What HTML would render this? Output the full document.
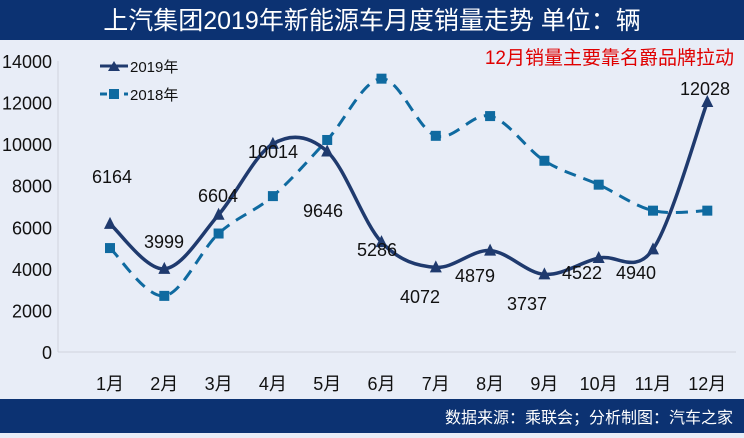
<!DOCTYPE html>
<html><head><meta charset="utf-8"><style>
body{margin:0;width:744px;height:433px;overflow:hidden;background:#e8edf7;font-family:"Liberation Sans","Noto Sans CJK SC",sans-serif;}
</style></head><body>
<svg id="s" width="744" height="433" xmlns="http://www.w3.org/2000/svg" font-family="Liberation Sans, Noto Sans CJK SC, sans-serif">
<rect width="744" height="433" fill="#e8edf7"/>
<rect width="744" height="40" fill="#0c3272"/>
<text x="372" y="29" fill="#fff" font-size="25" text-anchor="middle">上汽集团2019年新能源车月度销量走势  单位：辆</text>
<rect y="399" width="744" height="34" fill="#0c3272"/>
<text x="733" y="423" fill="#fff" font-size="16" text-anchor="end">数据来源：乘联会；分析制图：汽车之家</text>
<line x1="58" y1="352" x2="736" y2="352" stroke="#d0d4dc" stroke-width="1"/>
<line x1="58" y1="61" x2="58" y2="352" stroke="#d0d4dc" stroke-width="1"/>
<g id="g" font-size="18" fill="#111"></g>
<text x="734" y="64" fill="#e00000" font-size="19" text-anchor="end">12月销量主要靠名爵品牌拉动</text>
<line x1="100" y1="66" x2="128" y2="66" stroke="#1f3a6e" stroke-width="3"/><path d="M108 71 L114 61 L120 71Z" fill="#1f3a6e"/>
<text x="130" y="72" font-size="15" fill="#111">2019年</text>
<line x1="100" y1="94" x2="128" y2="94" stroke="#0f6aa0" stroke-width="3" stroke-dasharray="7,5"/><rect x="109" y="89" width="10" height="10" fill="#0f6aa0"/>
<text x="130" y="100" font-size="15" fill="#111">2018年</text>
</svg>
<script>
const g=document.getElementById('g'),NS='http://www.w3.org/2000/svg';
function el(t,a,txt){const e=document.createElementNS(NS,t);for(const k in a)e.setAttribute(k,a[k]);if(txt!=null)e.textContent=txt;g.appendChild(e);return e;}
const X=i=>110+54.3*i,Y=v=>352-v*0.020786;
for(let v=0;v<=14000;v+=2000)el('text',{x:52,y:Y(v)+7,'text-anchor':'end'},v);
for(let i=0;i<12;i++)el('text',{x:X(i),y:390,'text-anchor':'middle'},(i+1)+'月');
const a=[6164,3999,6604,10014,9646,5286,4072,4879,3737,4522,4940,12028];
const b=[5000,2700,5700,7500,10200,13150,10400,11350,9200,8050,6800,6800];
function path(d){const p=d.map((v,i)=>[X(i),Y(v)]);let s='M'+p[0];for(let i=0;i<p.length-1;i++){const p0=p[i-1]||p[i],p1=p[i],p2=p[i+1],p3=p[i+2]||p2;const t=6;s+=` C${p1[0]+(p2[0]-p0[0])/t},${p1[1]+(p2[1]-p0[1])/t} ${p2[0]-(p3[0]-p1[0])/t},${p2[1]-(p3[1]-p1[1])/t} ${p2[0]},${p2[1]}`;}return s;}
el('path',{d:path(b),fill:'none',stroke:'#0f6aa0','stroke-width':3,'stroke-dasharray':'12,8'});
el('path',{d:path(a),fill:'none',stroke:'#1f3a6e','stroke-width':3.5});
b.forEach((v,i)=>el('rect',{x:X(i)-5,y:Y(v)-5,width:10,height:10,fill:'#0f6aa0'}));
a.forEach((v,i)=>{const x=X(i),y=Y(v);el('path',{d:`M${x-6} ${y+5} L${x} ${y-7} L${x+6} ${y+5}Z`,fill:'#1f3a6e'});});
const L=[[112,183],[164,248],[218,202],[273,158],[323,217],[377,256],[420,303],[475,282],[527,310],[582,279],[636,279],[705,95]];
a.forEach((v,i)=>el('text',{x:L[i][0],y:L[i][1],'text-anchor':'middle'},v));
</script>
</body></html>
